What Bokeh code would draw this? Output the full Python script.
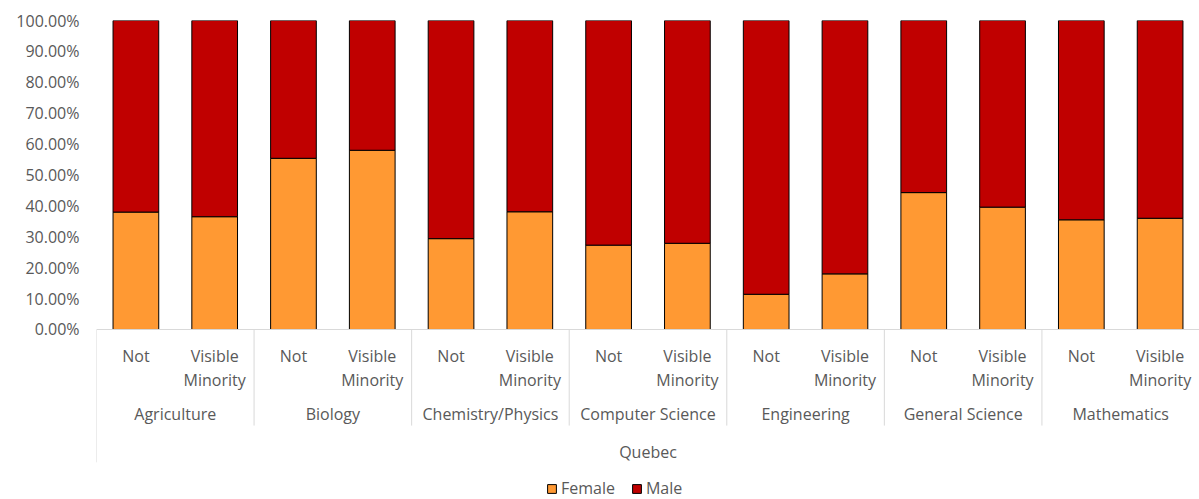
from bokeh.plotting import figure
from bokeh.models import (Range1d, FixedTicker, NumeralTickFormatter, Legend, LegendItem,
                          ColumnDataSource)
from bokeh.core.properties import value
from bokeh.embed import file_html
from bokeh.resources import INLINE

region = "Quebec"
fields = ["Agriculture", "Biology", "Chemistry/Physics", "Computer Science",
          "Engineering", "General Science", "Mathematics"]
statuses = ["Not", "Visible\nMinority"]
female = [38.0, 36.5, 55.4, 58.0, 29.4, 38.1, 27.3, 27.9, 11.4, 18.0, 44.3, 39.6, 35.5, 36.0]
male = [62.0, 63.5, 44.6, 42.0, 70.6, 61.9, 72.7, 72.1, 88.6, 82.0, 55.7, 60.4, 64.5, 64.0]
y_ticks = [0.0, 0.1, 0.2, 0.3, 0.4, 0.5, 0.6, 0.7, 0.8, 0.9, 1.0]

FONT = "Open Sans"
FS = "16px"
TXT = "#595959"
GRID = "#d9d9d9"

n_s = len(statuses)
n = len(fields) * n_s
xs = [i + 0.5 for i in range(n)]
src = ColumnDataSource(dict(
    x=xs,
    Female=[v / 100 for v in female],
    Male=[v / 100 for v in male],
))

p = figure(width=1199, height=499, x_range=Range1d(0, n), y_range=Range1d(-0.5502, 1.0),
           output_backend="svg", toolbar_location=None,
           min_border_left=96, min_border_right=0, min_border_top=20, min_border_bottom=0)
p.outline_line_color = None
p.xaxis.visible = False
p.xgrid.visible = False
p.ygrid.visible = False

yax = p.yaxis[0]
yax.ticker = FixedTicker(ticks=y_ticks)
yax.formatter = NumeralTickFormatter(format="0.00%")
yax.axis_line_color = None
yax.major_tick_line_color = None
yax.minor_tick_line_color = None
yax.major_tick_in = 0
yax.major_tick_out = 0
yax.major_label_standoff = 17
yax.major_label_text_font = FONT
yax.major_label_text_font_size = FS
yax.major_label_text_color = TXT

rs = p.vbar_stack(["Female", "Male"], x="x", width=0.58, source=src,
                  color=["#FF9933", "#C00000"], line_color="#000000", line_width=1)

# category axis lines
p.segment(x0=[0], y0=[0], x1=[n], y1=[0], line_color=GRID, line_width=1)
gx = [k * n_s for k in range(1, len(fields))]
p.segment(x0=gx, y0=[0] * len(gx), x1=gx, y1=[-0.311] * len(gx), line_color=GRID, line_width=1)
p.segment(x0=[0], y0=[0], x1=[0], y1=[-0.430], line_color=GRID, line_width=1)

# level 0 labels
p.text(x=xs, y=[-0.050] * n, text=statuses * len(fields),
       text_align="center", text_baseline="top", text_font=value(FONT),
       text_font_size=FS, text_color=TXT, text_line_height=1.08)
# level 1 labels
fx = [k * n_s + n_s / 2 for k in range(len(fields))]
p.text(x=fx, y=[-0.273] * len(fields), text=fields,
       text_align="center", text_baseline="middle", text_font=value(FONT),
       text_font_size=FS, text_color=TXT)
# level 2 label
p.text(x=[n / 2], y=[-0.395], text=[region],
       text_align="center", text_baseline="middle", text_font=value(FONT),
       text_font_size=FS, text_color=TXT)

legend = Legend(items=[LegendItem(label="Female", renderers=[rs[0]]),
                       LegendItem(label="Male", renderers=[rs[1]])],
                orientation="horizontal", location=(450, 0))
legend.glyph_width = 11
legend.glyph_height = 11
legend.label_standoff = 4
legend.spacing = 16
legend.padding = 0
legend.margin = 0
legend.border_line_color = None
legend.background_fill_alpha = 0
legend.label_text_font = FONT
legend.label_text_font_size = FS
legend.label_text_color = TXT
p.add_layout(legend, "center")

open("out.html", "w").write(file_html(p, INLINE))
